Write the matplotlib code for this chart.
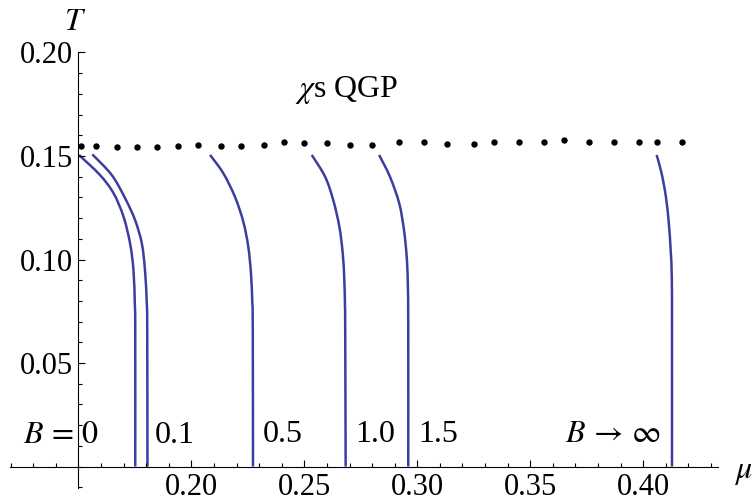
import matplotlib
matplotlib.use('Agg')
import matplotlib.pyplot as plt
import numpy as np
from matplotlib.ticker import FixedLocator
from matplotlib.path import Path
from matplotlib.patches import PathPatch

plt.rcParams['font.family'] = ['Liberation Serif', 'DejaVu Serif']
plt.rcParams['mathtext.fontset'] = 'stix'

# ---- data ----
dots_mu = [0.151, 0.158, 0.167, 0.176, 0.185, 0.194, 0.203, 0.213, 0.222, 0.232,
           0.241, 0.250, 0.260, 0.270, 0.280, 0.292, 0.303, 0.313, 0.325, 0.334,
           0.345, 0.356, 0.365, 0.376, 0.387, 0.398, 0.406, 0.417]
dots_T = [0.1550, 0.1550, 0.1542, 0.1542, 0.1542, 0.1550, 0.1555, 0.1548, 0.1548, 0.1555,
          0.1566, 0.1561, 0.1561, 0.1553, 0.1553, 0.1566, 0.1566, 0.1558, 0.1558, 0.1566,
          0.1566, 0.1566, 0.1577, 0.1566, 0.1566, 0.1566, 0.1566, 0.1566]

mu_B0 = [0.1503, 0.1596, 0.1656, 0.1700, 0.1729, 0.1744, 0.1750, 0.1752, 0.1752]
T_B0 = [0.1505, 0.1408, 0.1320, 0.1207, 0.1078, 0.0949, 0.0788, 0.0659, 0.0]

mu_B01 = [0.1562, 0.1648, 0.1707, 0.1751, 0.1781, 0.1795, 0.1803, 0.1805, 0.1806]
T_B01 = [0.1508, 0.1408, 0.1296, 0.1191, 0.1078, 0.0949, 0.0788, 0.0659, 0.0]

mu_B05 = [0.2083, 0.2142, 0.2193, 0.2230, 0.2252, 0.2264, 0.2270, 0.2272, 0.2273]
T_B05 = [0.1505, 0.1416, 0.1303, 0.1183, 0.1062, 0.0933, 0.0788, 0.0659, 0.0]

mu_B10 = [0.2533, 0.2592, 0.2628, 0.2655, 0.2670, 0.2677, 0.2680, 0.2681, 0.2683]
T_B10 = [0.1505, 0.1400, 0.1287, 0.1159, 0.1030, 0.0901, 0.0772, 0.0659, 0.0]

mu_B15 = [0.2831, 0.2879, 0.2920, 0.2941, 0.2953, 0.2958, 0.2960, 0.2960]
T_B15 = [0.1505, 0.1400, 0.1271, 0.1143, 0.1014, 0.0885, 0.0659, 0.0]

mu_Binf = [0.4059, 0.4081, 0.4100, 0.4113, 0.4121, 0.4126, 0.4127, 0.4127]
T_Binf = [0.1505, 0.1416, 0.1303, 0.1175, 0.1046, 0.0917, 0.0659, 0.0]

x_major = [0.20, 0.25, 0.30, 0.35, 0.40]
y_major = [0.05, 0.10, 0.15, 0.20]

curve_labels = [r"$B\,=\,0$", "0.1", "0.5", "1.0", "1.5", r"$B\,\rightarrow\,\infty$"]


def smooth_path(xs, ys):
    """Catmull-Rom curve through the given points, as cubic Bezier segments."""
    pts = np.column_stack([xs, ys]).astype(float)
    n = len(pts)
    verts = [pts[0]]
    codes = [Path.MOVETO]
    for i in range(n - 1):
        p0 = pts[i - 1] if i > 0 else pts[i]
        p1 = pts[i]
        p2 = pts[i + 1]
        p3 = pts[i + 2] if i + 2 < n else pts[i + 1]
        c1 = p1 + (p2 - p0) / 6.0
        c2 = p2 - (p3 - p1) / 6.0
        verts += [c1, c2, p2]
        codes += [Path.CURVE4] * 3
    return Path(verts, codes)


# ---- figure ----
fig = plt.figure(figsize=(7.52, 5.03), dpi=100)
ax = fig.add_axes([0, 0, 1, 1])
ax.set_xlim(0.11535, 0.4481)
ax.set_ylim(-0.01763, 0.22536)

line_color = '#3d3d9e'
for mu, T in [(mu_B0, T_B0), (mu_B01, T_B01), (mu_B05, T_B05),
              (mu_B10, T_B10), (mu_B15, T_B15), (mu_Binf, T_Binf)]:
    ax.add_patch(PathPatch(smooth_path(mu, T), facecolor='none',
                           edgecolor=line_color, lw=1.8, capstyle='butt'))

ax.plot(dots_mu, dots_T, 'o', color='black', markersize=4.6, markeredgewidth=0)

# axes in Mathematica style
for s in ['top', 'right']:
    ax.spines[s].set_visible(False)
ax.spines['left'].set_position(('data', 0.15))
ax.spines['bottom'].set_position(('data', 0.0))
ax.spines['left'].set_bounds(-0.0104, 0.20)
ax.spines['bottom'].set_bounds(0.1198, 0.433)
for s in ['left', 'bottom']:
    ax.spines[s].set_linewidth(0.8)

ax.set_xticks(x_major)
ax.set_xticklabels([f"{v:.2f}" for v in x_major])
ax.xaxis.set_minor_locator(FixedLocator(np.round(np.arange(0.12, 0.4301, 0.01), 3)))
ax.set_yticks(y_major)
ax.set_yticklabels([f"{v:.2f}" for v in y_major])
ax.yaxis.set_minor_locator(FixedLocator(np.round(np.arange(-0.01, 0.2001, 0.01), 3)))

ax.tick_params(which='both', direction='in', width=0.8, color='black', labelsize=22)
ax.tick_params(which='major', length=5)
ax.tick_params(which='minor', length=3)
ax.tick_params(axis='x', which='major', pad=5)
ax.tick_params(axis='y', which='major', pad=4)

# axis labels
ax.text(0.1485, 0.2147, r"$T$", fontsize=23, ha='center', va='center')
ax.text(0.4441, -0.0031, r"$\mu$", fontsize=23, ha='center', va='center')

# annotations
ax.text(0.2459, 0.1819, r"$\chi$s QGP", fontsize=23, ha='left', va='center')
label_pos = [(0.1255, 0.0152, 'left'), (0.1928, 0.0152, 'center'),
             (0.2405, 0.0155, 'center'), (0.2812, 0.0155, 'center'),
             (0.3091, 0.0155, 'center'), (0.3866, 0.0155, 'center')]
for lab, (x, y, ha) in zip(curve_labels, label_pos):
    ax.text(x, y, lab, fontsize=23, ha=ha, va='center')

fig.savefig('out.png', dpi=100)
